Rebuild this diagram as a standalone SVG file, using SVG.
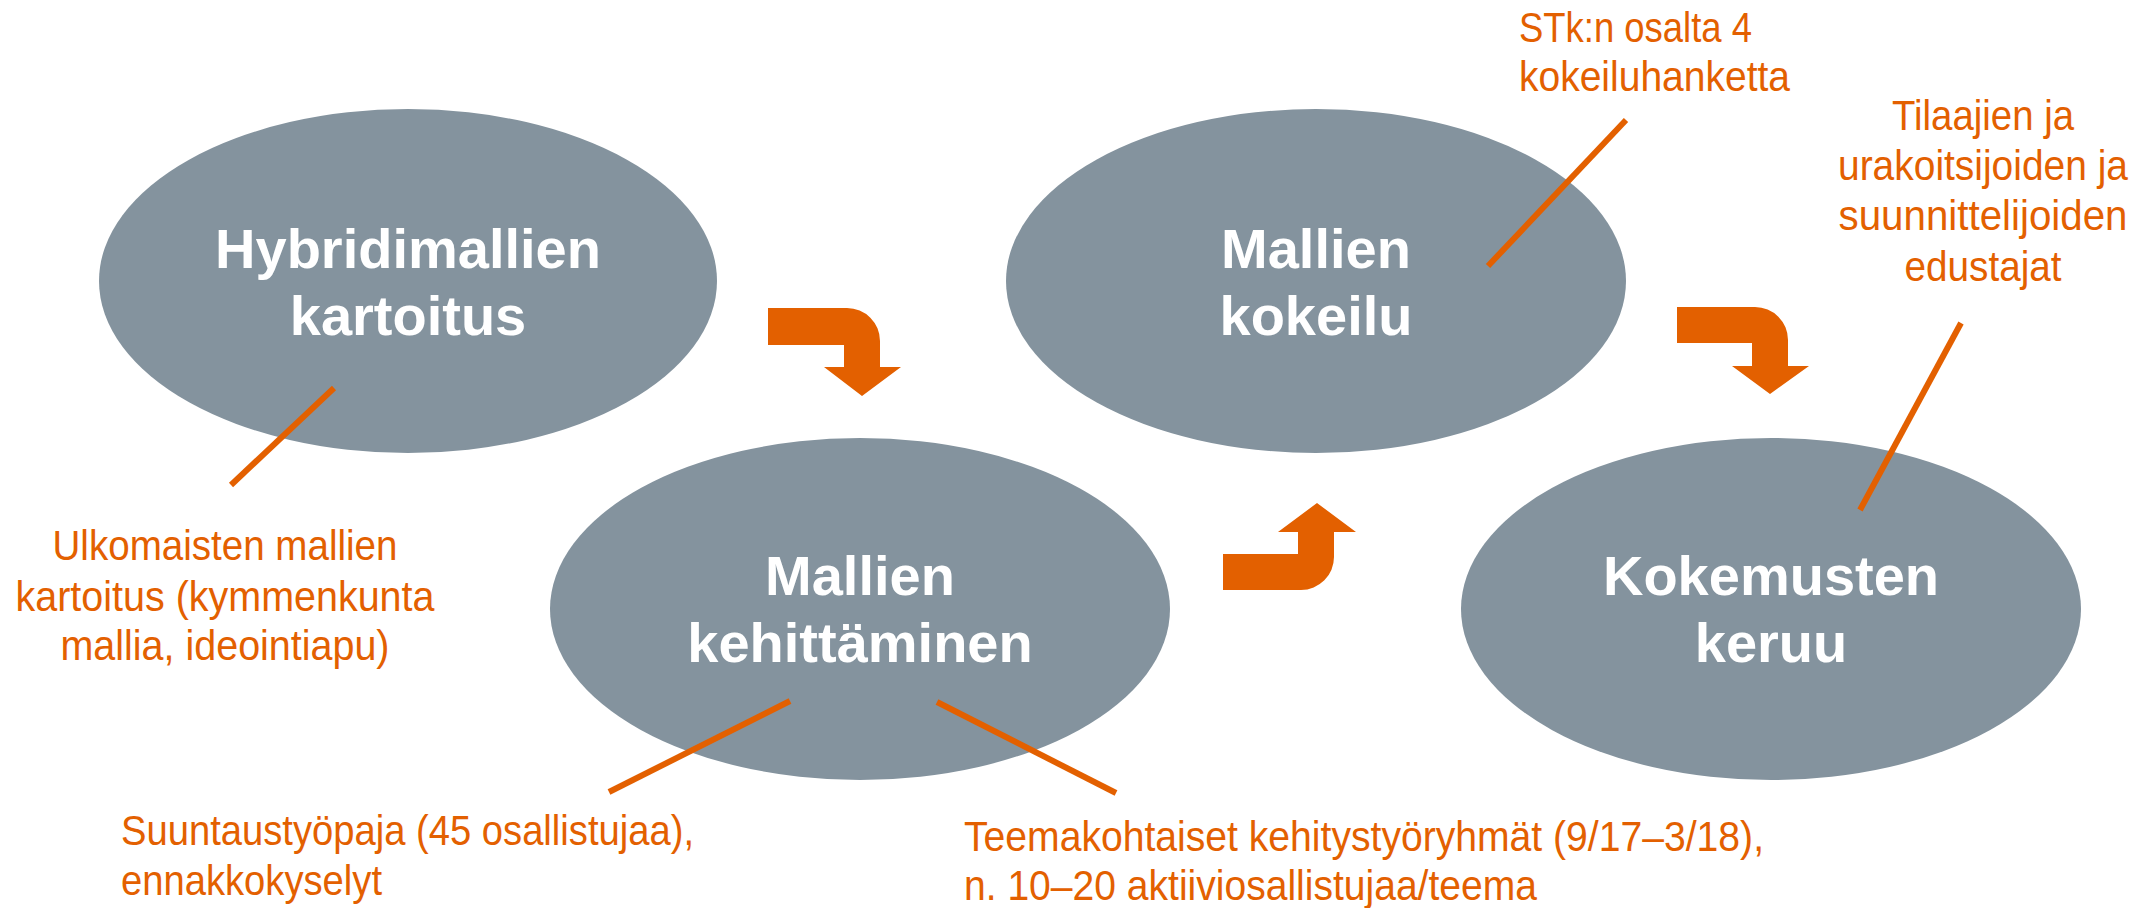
<svg xmlns="http://www.w3.org/2000/svg" width="2141" height="908" viewBox="0 0 2141 908">
<style>
.node ellipse{fill:#84939E}
.title{font-family:"Liberation Sans",Arial,sans-serif;font-weight:bold;font-size:56px;fill:#FFFFFF;text-anchor:middle}
.note{font-family:"Liberation Sans Narrow","Liberation Sans",Arial,sans-serif;font-size:42px;fill:#E36000}
.mid{text-anchor:middle}
.lead{stroke:#E36000;stroke-width:6;fill:none}
.arrow{fill:#E36000}
</style>
<rect width="2141" height="908" fill="#FFFFFF"/>
<g id="node-hybridimallien" class="node">
<ellipse cx="408" cy="281" rx="309" ry="172"/>
<text class="title" x="408" y="268">Hybridimallien</text>
<text class="title" x="408" y="335">kartoitus</text>
</g>
<g id="node-kehittaminen" class="node">
<ellipse cx="860" cy="609" rx="310" ry="171"/>
<text class="title" x="860" y="595">Mallien</text>
<text class="title" x="860" y="662">kehittäminen</text>
</g>
<g id="node-kokeilu" class="node">
<ellipse cx="1316" cy="281" rx="310" ry="172"/>
<text class="title" x="1316" y="268">Mallien</text>
<text class="title" x="1316" y="335">kokeilu</text>
</g>
<g id="node-kokemusten" class="node">
<ellipse cx="1771" cy="609" rx="310" ry="171"/>
<text class="title" x="1771" y="595">Kokemusten</text>
<text class="title" x="1771" y="662">keruu</text>
</g>
<g id="connectors">
<path class="arrow" d="M768,308 H847 A33,33 0 0 1 880,341 V367 H901 L862,396 L824,367 H844 V345 H768 Z"/>
<path class="arrow" d="M1223,554 H1298 V532 H1278 L1317,503 L1356,532 H1334 V557 A33,33 0 0 1 1301,590 H1223 Z"/>
<path class="arrow" d="M1677,307 H1755 A33,33 0 0 1 1788,340 V366 H1809 L1770,394 L1732,366 H1752 V343 H1677 Z"/>
<line class="lead" x1="334" y1="388" x2="231" y2="485"/>
<line class="lead" x1="790" y1="701" x2="609" y2="792"/>
<line class="lead" x1="937" y1="702" x2="1116" y2="793"/>
<line class="lead" x1="1626" y1="120" x2="1488" y2="266"/>
<line class="lead" x1="1961" y1="323" x2="1860" y2="510"/>
</g>
<g id="notes">
<text class="note mid" x="225" y="560" textLength="345" lengthAdjust="spacingAndGlyphs">Ulkomaisten mallien</text>
<text class="note mid" x="225" y="611" textLength="419" lengthAdjust="spacingAndGlyphs">kartoitus (kymmenkunta</text>
<text class="note mid" x="225" y="660" textLength="329" lengthAdjust="spacingAndGlyphs">mallia, ideointiapu)</text>
<text class="note" x="121" y="845" textLength="573" lengthAdjust="spacingAndGlyphs">Suuntaustyöpaja (45 osallistujaa),</text>
<text class="note" x="121" y="895" textLength="261" lengthAdjust="spacingAndGlyphs">ennakkokyselyt</text>
<text class="note" x="964" y="851" textLength="800" lengthAdjust="spacingAndGlyphs">Teemakohtaiset kehitystyöryhmät (9/17–3/18),</text>
<text class="note" x="964" y="900" textLength="573" lengthAdjust="spacingAndGlyphs">n. 10–20 aktiiviosallistujaa/teema</text>
<text class="note" x="1519" y="42" textLength="233" lengthAdjust="spacingAndGlyphs">STk:n osalta 4</text>
<text class="note" x="1519" y="91" textLength="271" lengthAdjust="spacingAndGlyphs">kokeiluhanketta</text>
<text class="note mid" x="1983" y="130" textLength="182" lengthAdjust="spacingAndGlyphs">Tilaajien ja</text>
<text class="note mid" x="1983" y="180" textLength="290" lengthAdjust="spacingAndGlyphs">urakoitsijoiden ja</text>
<text class="note mid" x="1983" y="230" textLength="289" lengthAdjust="spacingAndGlyphs">suunnittelijoiden</text>
<text class="note mid" x="1983" y="281" textLength="157" lengthAdjust="spacingAndGlyphs">edustajat</text>
</g>
</svg>
